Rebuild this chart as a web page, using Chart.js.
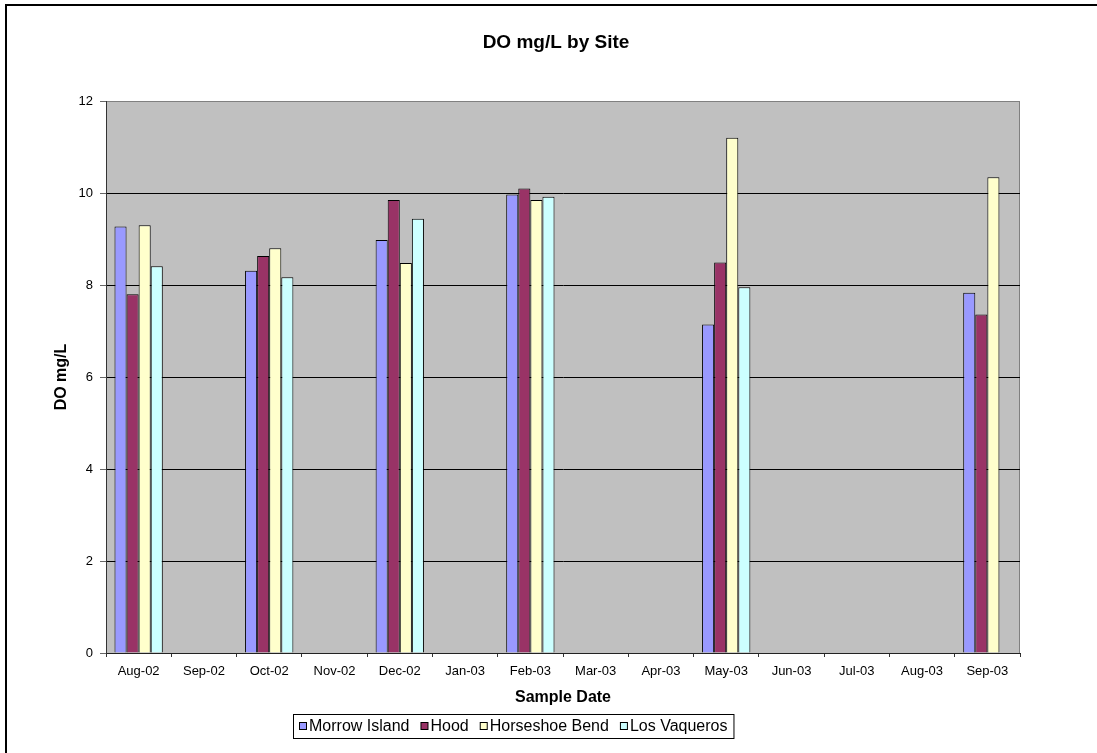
<!DOCTYPE html>
<html>
<head>
<meta charset="utf-8">
<script src="https://cdn.jsdelivr.net/npm/chart.js@4.4.1/dist/chart.umd.min.js"></script>
<style>
  html, body { margin: 0; padding: 0; background: #ffffff; }
  #wrap { width: 1097px; height: 753px; position: relative; }
  canvas { display: block; }
</style>
</head>
<body>
<div id="wrap"><canvas id="c" width="1097" height="753"></canvas></div>
<script>
const categories = ['Aug-02','Sep-02','Oct-02','Nov-02','Dec-02','Jan-03','Feb-03','Mar-03','Apr-03','May-03','Jun-03','Jul-03','Aug-03','Sep-03'];
const morrowIsland   = [9.27, null, 8.31, null, 8.98, null, 9.97, null, null, 7.14, null, null, null, 7.83];
const hood           = [7.80, null, 8.63, null, 9.85, null, 10.10, null, null, 8.49, null, null, null, 7.36];
const horseshoeBend  = [9.30, null, 8.80, null, 8.48, null, 9.85, null, null, 11.20, null, null, null, 10.34];
const losVaqueros    = [8.41, null, 8.17, null, 9.44, null, 9.92, null, null, 7.95, null, null, null, null];
const seriesNames = ['Morrow Island', 'Hood', 'Horseshoe Bend', 'Los Vaqueros'];
const seriesColors = ['#9999FF', '#993366', '#FFFFCC', '#CCFFFF'];
const yTicks = [0, 2, 4, 6, 8, 10, 12];
const chartTitle = 'DO mg/L by Site';
const xTitle = 'Sample Date';
const yTitle = 'DO mg/L';

const FONT = '"Liberation Sans", Arial, Helvetica, sans-serif';

const decorPlugin = {
  id: 'decor',
  beforeDraw(chart) {
    const ctx = chart.ctx;
    const a = chart.chartArea;
    ctx.save();
    ctx.fillStyle = '#ffffff';
    ctx.fillRect(0, 0, chart.width, chart.height);
    ctx.fillStyle = '#C0C0C0';
    ctx.fillRect(a.left, a.top, a.right - a.left, a.bottom - a.top);
    ctx.strokeStyle = '#808080';
    ctx.lineWidth = 1;
    ctx.strokeRect(a.left + 0.5, a.top + 0.5, a.right - a.left - 1, a.bottom - a.top);
    ctx.restore();
  },
  afterDraw(chart) {
    const ctx = chart.ctx;
    ctx.save();
    // outer frame (only left and top visible)
    ctx.fillStyle = '#000000';
    ctx.fillRect(5, 4, 2, chart.height);
    ctx.fillRect(5, 4, chart.width, 2);
    // title
    ctx.font = 'bold 19px ' + FONT;
    ctx.textAlign = 'center';
    ctx.textBaseline = 'middle';
    ctx.fillStyle = '#000000';
    ctx.fillText(chartTitle, 556, 43);
    // legend
    ctx.font = '16px ' + FONT;
    ctx.textAlign = 'left';
    const boxLeft = 293, boxTop = 714, boxH = 24;
    const cy = boxTop + boxH / 2;
    let x = boxLeft + 6;
    const items = [];
    seriesNames.forEach((name, i) => {
      const w = ctx.measureText(name).width;
      items.push({ x, w, name, color: seriesColors[i] });
      x += 11 + w + 10;
    });
    const boxRight = x - 10 + 5;
    ctx.fillStyle = '#ffffff';
    ctx.fillRect(boxLeft, boxTop, boxRight - boxLeft, boxH);
    ctx.strokeStyle = '#000000';
    ctx.lineWidth = 1;
    ctx.strokeRect(boxLeft + 0.5, boxTop + 0.5, boxRight - boxLeft, boxH);
    items.forEach(it => {
      ctx.fillStyle = it.color;
      ctx.fillRect(it.x + 0.5, cy - 3.5, 7, 7);
      ctx.strokeStyle = '#000000';
      ctx.strokeRect(it.x + 0.5, cy - 3.5, 7, 7);
      ctx.fillStyle = '#000000';
      ctx.textBaseline = 'middle';
      ctx.fillText(it.name, it.x + 10, cy + 1);
    });
    ctx.restore();
  }
};

const datasets = [morrowIsland, hood, horseshoeBend, losVaqueros].map((d, i) => ({
  label: seriesNames[i],
  data: d,
  backgroundColor: seriesColors[i],
  borderColor: '#000000',
  borderWidth: 1,
  categoryPercentage: 0.74,
  barPercentage: 1.0
}));

new Chart(document.getElementById('c'), {
  type: 'bar',
  data: { labels: categories, datasets },
  plugins: [decorPlugin],
  options: {
    responsive: false,
    animation: false,
    devicePixelRatio: 1,
    layout: { padding: { left: 0, top: 101, right: 77, bottom: 46 } },
    plugins: {
      legend: { display: false },
      title: { display: false },
      tooltip: { enabled: false }
    },
    scales: {
      x: {
        afterFit(scale) { scale.height = 54; },
        grid: {
          offset: true,
          drawOnChartArea: false,
          drawTicks: true,
          tickLength: 4,
          tickColor: '#333333'
        },
        border: { display: true, color: '#222222', width: 1 },
        ticks: {
          autoSkip: false,
          maxRotation: 0,
          minRotation: 0,
          padding: 7,
          color: '#000000',
          font: { family: FONT, size: 13 }
        },
        title: {
          display: true,
          text: xTitle,
          color: '#000000',
          font: { family: FONT, size: 16, weight: 'bold' },
          padding: { top: 0, bottom: 0 }
        }
      },
      y: {
        min: 0,
        max: 12,
        afterFit(scale) { scale.width = 106; },
        afterBuildTicks(scale) { scale.ticks = yTicks.map(v => ({ value: v })); },
        grid: {
          color(ctx) { return ctx.tick && ctx.tick.value === 12 ? '#808080' : '#000000'; },
          lineWidth: 1,
          drawTicks: true,
          tickLength: 6,
          tickColor: '#666666'
        },
        border: { display: true, color: '#333333', width: 1 },
        ticks: {
          padding: 7,
          color: '#000000',
          font: { family: FONT, size: 13 }
        },
        title: {
          display: true,
          text: yTitle,
          color: '#000000',
          font: { family: FONT, size: 16, weight: 'bold' },
          padding: { top: 52, bottom: 0 }
        }
      }
    }
  }
});
</script>
</body>
</html>
